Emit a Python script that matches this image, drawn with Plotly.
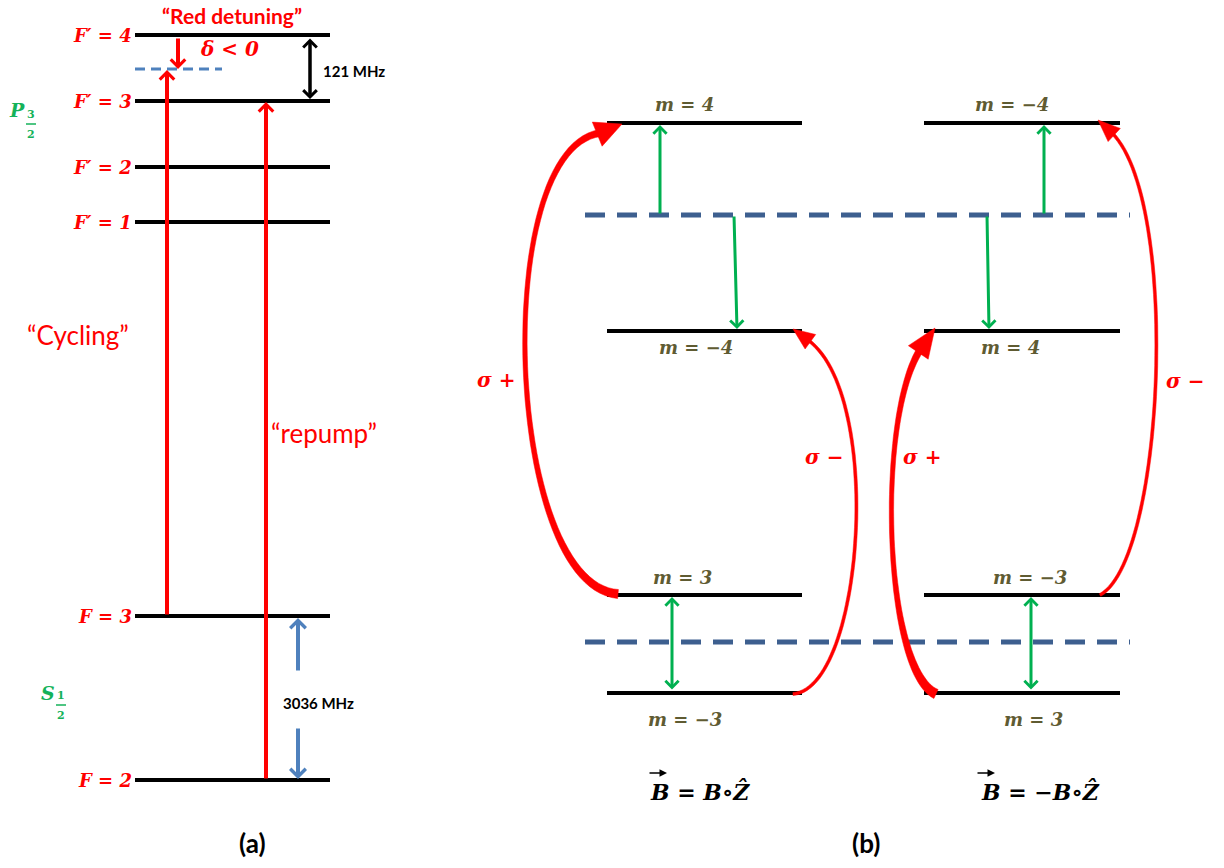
import math
import plotly.graph_objects as go

W, H = 1224, 868

# ---------------- panel (a): hyperfine structure ----------------
a_level_labels = ["F′ = 4", "F′ = 3", "F′ = 2", "F′ = 1", "F = 3", "F = 2"]
a_level_y = [35, 101, 167, 222, 616, 780]
a_level_x = [135, 330]
a_detuned_y = 69
a_detuned_x = [135, 222]
a_gap_labels = ["121 MHz", "3036 MHz"]
a_transition_labels = ["“Cycling”", "“repump”"]
a_title = "“Red detuning”"
a_delta = "δ < 0"

# ---------------- panel (b): Zeeman sublevels ----------------
b_left_labels = ["m = 4", "m = −4", "m = 3", "m = −3"]
b_right_labels = ["m = −4", "m = 4", "m = −3", "m = 3"]
b_level_y = [123, 331, 595, 693]
b_left_x = [607, 802]
b_right_x = [924, 1120]
b_virtual_y = [215, 642]
b_virtual_x = [585, 1130]
b_field_labels = ["B = B∘Ẑ", "B = −B∘Ẑ"]
b_sigma_labels = ["σ +", "σ −", "σ +", "σ −"]

RED = "#ff0000"
GREEN = "#00b050"
BLUE_A = "#4f81bd"
BLUE_B = "#3d5f8f"
OLIVE = "#5f5b32"
PGREEN = "#14b25a"
SERIF = "DejaVu Serif"
SANS = "Lato"

fig = go.Figure()
annotations = []
shapes = []


def levels(xs, ys):
    X, Y = [], []
    for y in ys:
        X += [xs[0], xs[1], None]
        Y += [y, y, None]
    return X, Y


# level lines
X, Y = levels(a_level_x, a_level_y)
fig.add_trace(go.Scatter(x=X, y=Y, mode="lines", line=dict(color="black", width=4), hoverinfo="skip"))
X, Y = levels(b_left_x, b_level_y)
fig.add_trace(go.Scatter(x=X, y=Y, mode="lines", line=dict(color="black", width=4), hoverinfo="skip"))
X, Y = levels(b_right_x, b_level_y)
fig.add_trace(go.Scatter(x=X, y=Y, mode="lines", line=dict(color="black", width=4), hoverinfo="skip"))

# dashed (detuned / virtual) levels
fig.add_trace(go.Scatter(x=a_detuned_x, y=[a_detuned_y] * 2, mode="lines",
                         line=dict(color=BLUE_A, width=3, dash="10px,6px"), hoverinfo="skip"))
X, Y = levels(b_virtual_x, b_virtual_y)
fig.add_trace(go.Scatter(x=X, y=Y, mode="lines",
                         line=dict(color=BLUE_B, width=5, dash="20px,12px"), hoverinfo="skip"))


def arrow(x0, y0, x1, y1, color, width, size=1.0, both=False, head=4):
    annotations.append(dict(
        x=x1, y=y1, ax=x0, ay=y0, xref="x", yref="y", axref="x", ayref="y",
        text="", showarrow=True, arrowhead=head, arrowsize=size, arrowwidth=width,
        arrowcolor=color, standoff=0, startstandoff=0,
        arrowside="end+start" if both else "end", startarrowhead=head, startarrowsize=size))


def txt(x, y, s, size, color, family, bold=False, italic=False, xanchor="center", yanchor="middle"):
    annotations.append(dict(
        x=x, y=y, xref="x", yref="y", text=s, showarrow=False, xanchor=xanchor, yanchor=yanchor,
        borderpad=0,
        font=dict(family=family, size=size, color=color,
                  weight="bold" if bold else "normal", style="italic" if italic else "normal")))


# ---- panel (a) arrows ----
arrow(178, a_level_y[0] + 2, 178, a_detuned_y, RED, 4, size=0.7)                 # red detuning
arrow(167, a_level_y[4], 167, a_detuned_y + 1, RED, 4, size=0.7)                 # cycling
arrow(266, a_level_y[5], 266, a_level_y[1] + 1, RED, 4, size=0.7)                # repump
arrow(310, a_level_y[0] + 2, 310, a_level_y[1] - 2, "black", 3.5, size=0.75, both=True)
arrow(298, 672, 298, a_level_y[4] + 2, BLUE_A, 4, size=0.75)
arrow(298, 727, 298, a_level_y[5] - 1, BLUE_A, 4, size=0.75)

# ---- panel (a) text ----
for lab, y in zip(a_level_labels, a_level_y):
    txt(133, y, lab, 18, RED, SERIF, bold=True, italic=True, xanchor="right")
txt(232, 15, a_title, 21, RED, SANS, bold=True)
txt(229, 49, a_delta, 20, RED, SERIF, bold=True, italic=True)
txt(322, 71, a_gap_labels[0], 15, "black", SANS, bold=True, xanchor="left")
txt(318, 703, a_gap_labels[1], 15, "black", SANS, bold=True)
txt(78, 335, a_transition_labels[0], 26, RED, SANS)
txt(324, 433, a_transition_labels[1], 26, RED, SANS)
txt(252, 843, "(a)", 26, "black", SANS, bold=True)

# term symbols P_{3/2}, S_{1/2}
txt(17, 110, "P", 19, PGREEN, SERIF, bold=True, italic=True)
txt(31, 114, "3", 11, PGREEN, SERIF, bold=True)
txt(31, 134, "2", 11, PGREEN, SERIF, bold=True)
shapes.append(dict(type="line", xref="x", yref="y", x0=26, x1=36, y0=124, y1=124,
                   line=dict(color=PGREEN, width=1.5)))
txt(48, 693, "S", 19, PGREEN, SERIF, bold=True, italic=True)
txt(61, 695, "1", 11, PGREEN, SERIF, bold=True)
txt(61, 715, "2", 11, PGREEN, SERIF, bold=True)
shapes.append(dict(type="line", xref="x", yref="y", x0=56, x1=66, y0=705, y1=705,
                   line=dict(color=PGREEN, width=1.5)))

# ---- panel (b) green arrows ----
arrow(660, b_virtual_y[0], 660, b_level_y[0] + 2, GREEN, 3, size=0.85)
arrow(1044, b_virtual_y[0], 1044, b_level_y[0] + 2, GREEN, 3, size=0.85)
arrow(734, b_virtual_y[0], 737, b_level_y[1] - 2, GREEN, 3, size=0.85)
arrow(987, b_virtual_y[0], 989, b_level_y[1] - 2, GREEN, 3, size=0.85)
arrow(672, b_level_y[3] - 2, 672, b_level_y[2] + 2, GREEN, 3, size=0.85, both=True)
arrow(1031, b_level_y[3] - 2, 1031, b_level_y[2] + 2, GREEN, 3, size=0.85, both=True)

# ---- panel (b) m labels ----
b_left_lx = [684, 696, 682, 685]
b_right_lx = [1012, 1010, 1030, 1033]
b_label_dy = [-19, 16, -18, 26]
for lab, x, y, dy in zip(b_left_labels, b_left_lx, b_level_y, b_label_dy):
    txt(x, y + dy, lab, 18, OLIVE, SERIF, bold=True, italic=True)
for lab, x, y, dy in zip(b_right_labels, b_right_lx, b_level_y, b_label_dy):
    txt(x, y + dy, lab, 18, OLIVE, SERIF, bold=True, italic=True)

# ---- field labels ----
txt(700, 791, b_field_labels[0], 22, "black", SERIF, bold=True, italic=True)
txt(1040, 791, b_field_labels[1], 22, "black", SERIF, bold=True, italic=True)
arrow(648, 773, 667, 773, "black", 1.5, size=1.0, head=2)
arrow(976, 773, 995, 773, "black", 1.5, size=1.0, head=2)
txt(866, 843, "(b)", 26, "black", SANS, bold=True)

# ---- curved polarisation arrows (cubic Bezier control points) ----
curves = [
    dict(p=[(618, 594), (505, 585), (490, 150), (600, 133)], tip=(622, 124), w=(9, 4.5, 7), hw=13),
    dict(p=[(793, 694), (864, 688), (884, 395), (808, 340)], tip=(793, 329), w=(3, 3, 3), hw=9),
    dict(p=[(936, 694), (884, 670), (876, 420), (920, 350)], tip=(935, 328), w=(10, 4.5, 7), hw=12),
    dict(p=[(1100, 595), (1165, 560), (1180, 200), (1112, 133)], tip=(1098, 120), w=(3, 3, 3), hw=9),
]
sigma_pos = [(496, 380), (824, 457), (922, 457), (1185, 381)]


def bez(p, t):
    u = 1 - t
    c = (u ** 3, 3 * u * u * t, 3 * u * t * t, t ** 3)
    return (sum(ci * pi[0] for ci, pi in zip(c, p)), sum(ci * pi[1] for ci, pi in zip(c, p)))


def bez_d(p, t):
    u = 1 - t
    c = (-3 * u * u, 3 * u * u - 6 * u * t, 6 * u * t - 3 * t * t, 3 * t * t)
    return (sum(ci * pi[0] for ci, pi in zip(c, p)), sum(ci * pi[1] for ci, pi in zip(c, p)))


for cv in curves:
    p = cv["p"]
    w0, wm, w1 = cv["w"]
    n = 60
    left, right = [], []
    for i in range(n + 1):
        t = i / n
        x, y = bez(p, t)
        dx, dy = bez_d(p, t)
        L = math.hypot(dx, dy) or 1
        nx, ny = -dy / L, dx / L
        # quadratic width profile through w0, wm, w1
        w = w0 * (1 - t) * (1 - 2 * t) + 4 * wm * t * (1 - t) + w1 * t * (2 * t - 1)
        left.append((x + nx * w / 2, y + ny * w / 2))
        right.append((x - nx * w / 2, y - ny * w / 2))
    pts = left + right[::-1]
    path = "M " + " L ".join(f"{a:.1f},{b:.1f}" for a, b in pts) + " Z"
    shapes.append(dict(type="path", xref="x", yref="y", path=path, fillcolor=RED,
                       line=dict(color=RED, width=0.5), layer="above"))
    # arrow head
    bx, by = p[3]
    tx, ty = cv["tip"]
    dx, dy = tx - bx, ty - by
    L = math.hypot(dx, dy)
    ux, uy = dx / L, dy / L
    nx, ny = -uy, ux
    hw = cv["hw"]
    bx2, by2 = bx - ux * 3, by - uy * 3
    tri = (f"M {tx:.1f},{ty:.1f} L {bx2 + nx * hw:.1f},{by2 + ny * hw:.1f} "
           f"L {bx2 - nx * hw:.1f},{by2 - ny * hw:.1f} Z")
    shapes.append(dict(type="path", xref="x", yref="y", path=tri, fillcolor=RED,
                       line=dict(color=RED, width=0.5), layer="above"))

for lab, (x, y) in zip(b_sigma_labels, sigma_pos):
    txt(x, y, lab, 20, RED, SERIF, bold=True, italic=True)

fig.update_layout(
    width=W, height=H, margin=dict(l=0, r=0, t=0, b=0),
    paper_bgcolor="white", plot_bgcolor="white", showlegend=False,
    xaxis=dict(range=[0, W], visible=False, fixedrange=True),
    yaxis=dict(range=[H, 0], visible=False, fixedrange=True),
    annotations=annotations, shapes=shapes,
)
# remove the page's default body margin so the figure sits at the window's top-left corner
fig.write_html("out.html", config={"displayModeBar": False},
               post_script="document.body.style.margin='0';")
